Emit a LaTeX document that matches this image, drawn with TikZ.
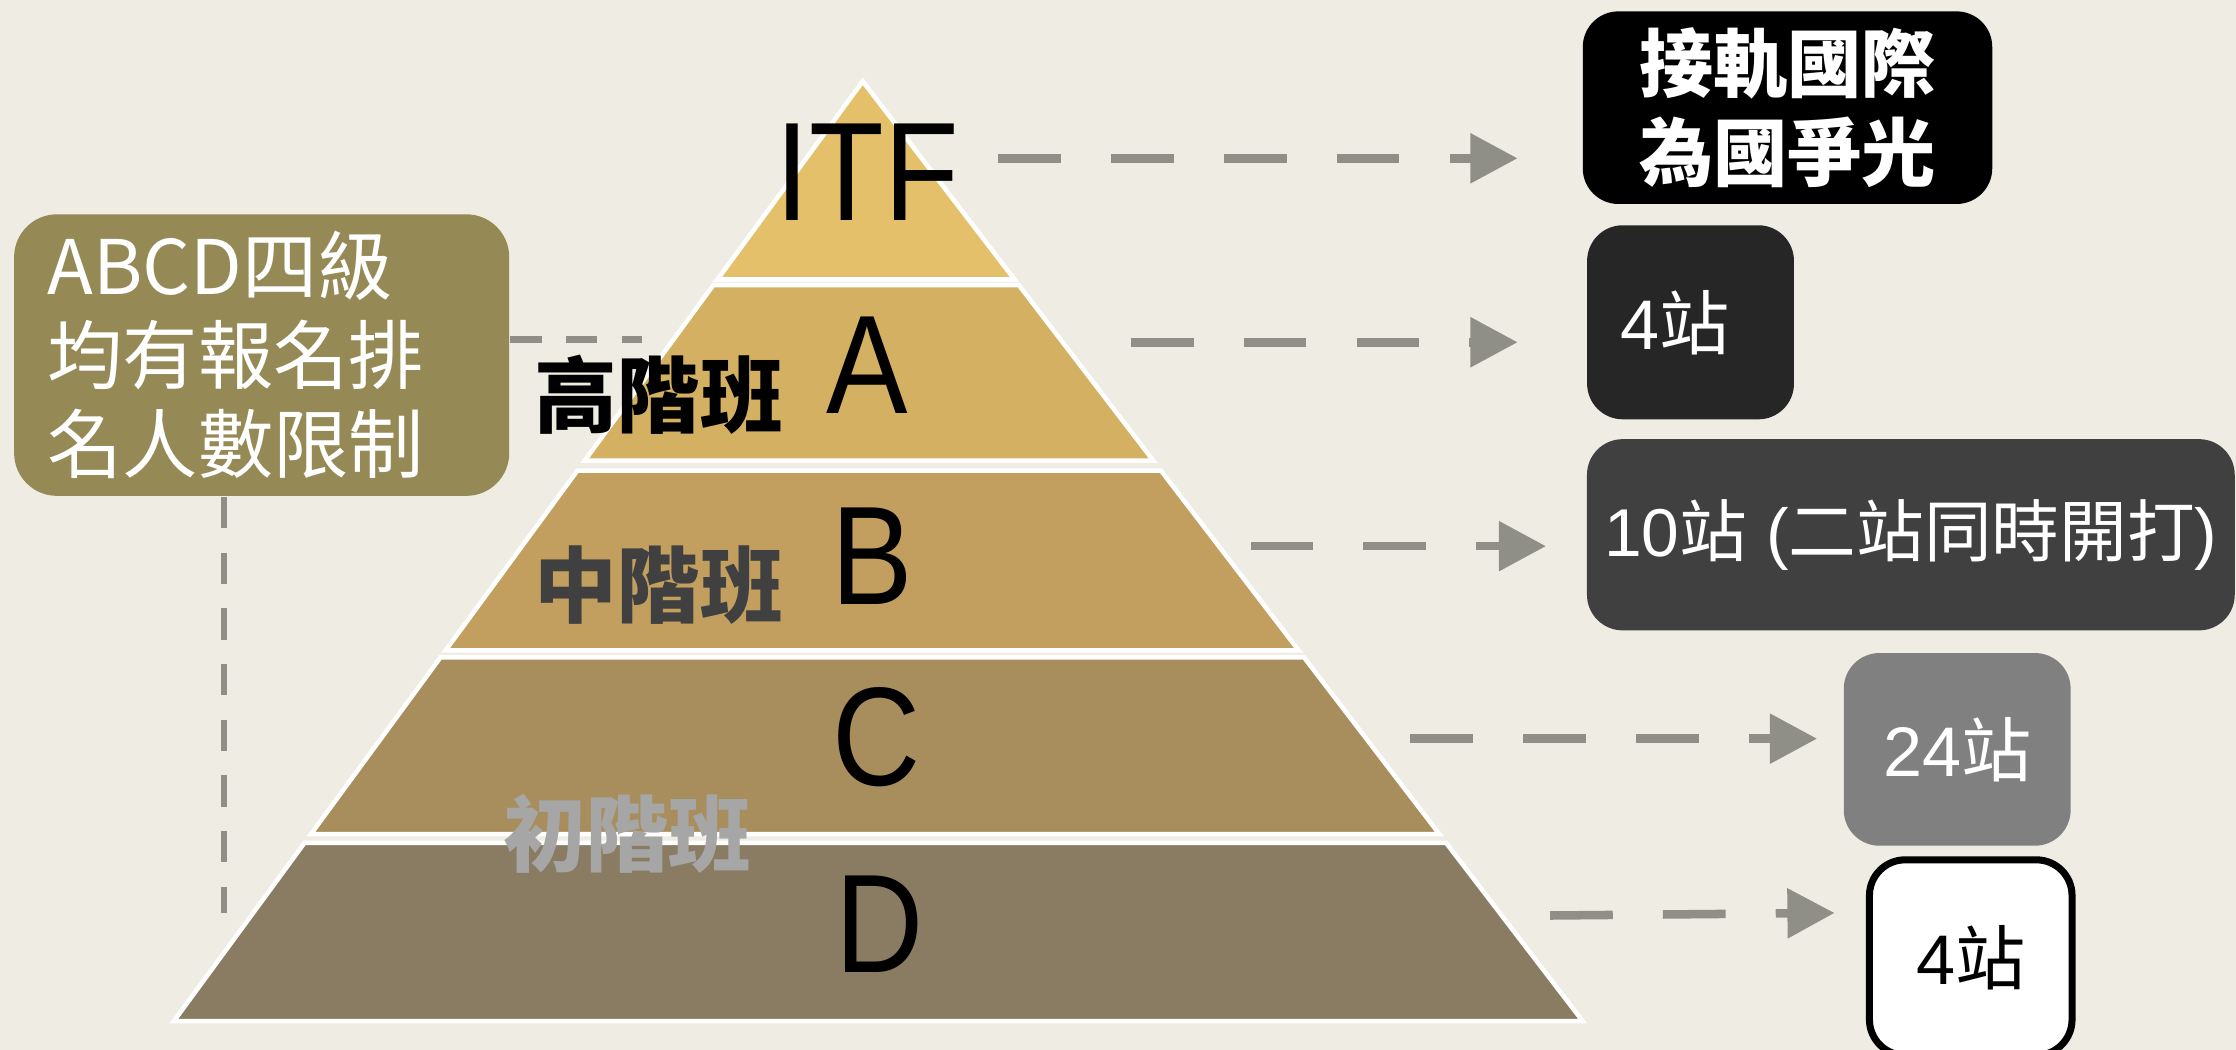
\documentclass[tikz,border=0pt]{standalone}
\usepackage{fontspec}
\setmainfont{Liberation Sans}
\newfontfamily\cjk{Noto Sans CJK TC}
\usetikzlibrary{%
	arrows.meta,%
	calc,%
	positioning
}
\definecolor{paper}{HTML}{EFECE4}
\definecolor{dashgray}{HTML}{8F8F88}
\definecolor{olivebox}{HTML}{958A56}
\definecolor{lvitf}{HTML}{E5C06B}
\definecolor{lva}{HTML}{D4B062}
\definecolor{lvb}{HTML}{C29F5F}
\definecolor{lvc}{HTML}{A88E5C}
\definecolor{lvd}{HTML}{8A7C62}
\tikzset{
	band/.style={draw=white, line width=0.9pt},
	levelname/.style={inner sep=0pt, font=\fontsize{28}{28}\selectfont},
	classname/.style={inner sep=0pt, font=\cjk\bfseries\fontsize{16.5}{16.5}\selectfont},
	stationbox/.style={rounded corners=0.25cm, inner sep=0pt, text=white, font=\fontsize{14}{16}\selectfont},
	flow/.style={draw=dashgray, line width=1.7pt, dash pattern=on 12.5pt off 10pt, -{Triangle[length=9.4pt,width=9.6pt]}},
	tie/.style={draw=dashgray, line width=1.3pt, dash pattern=on 6.3pt off 4.8pt},
}

\begin{document}
\begin{tikzpicture}[x=0.01cm, y=-0.01cm]
		\fill[paper] (0,0) rectangle (1568,736);
		\useasboundingbox (0,0) rectangle (1568,736);
		% pyramid, top to bottom
		\foreach \ya/\yb/\col in {57/196/lvitf, 200/323/lva, 330/456/lvb, 461/585/lvc, 591/716/lvd}{
			\filldraw[band, fill=\col] ({605-0.733*(\ya-57)},\ya) -- ({605+0.766*(\ya-57)},\ya)
				-- ({605+0.766*(\yb-57)},\yb) -- ({605-0.733*(\yb-57)},\yb) -- cycle;
		}
		\node[levelname] (itf) at (608,121) {\scalebox{0.87}[1]{ITF}};
		\foreach \lv/\x/\y in {A/608/256, B/612/390, C/615/517, D/617/648}
			\node[levelname] (lv\lv) at (\x,\y) {\scalebox{0.87}[1]{\lv}};
		\node[classname] (high) at (462,277) {高階班};
		\node[classname, text=black!75] (mid) at (462,410) {中階班};
		\node[classname, text=black!35] (low) at (440,585) {初階班};

		\node[fill=olivebox, rounded corners=0.3cm, text=white, align=left, text width=3cm,
			minimum height=1.92cm, inner xsep=0.235cm, font=\cjk\fontsize{15}{17.8}\selectfont]
			(note) at (183.5,249) {ABCD四級\\均有報名排\\名人數限制};

		\node[stationbox, fill=black, align=center, minimum width=2.87cm, minimum height=1.35cm,
			font=\cjk\bfseries\fontsize{14.8}{17.6}\selectfont] (goal) at (1253.5,75.5) {接軌國際\\為國爭光};
		\node[stationbox, fill=black!85, minimum width=1.45cm, minimum height=1.36cm] (stnA) at (1185.5,226) {4{\cjk 站}\hspace*{0.22cm}};
		\node[stationbox, fill=black!75, minimum width=4.54cm, minimum height=1.34cm,
			font=\fontsize{13.5}{16}\selectfont] (stnB) at (1340,375) {10{\cjk 站} ({\cjk 二站同時開打})};
		\node[stationbox, fill=black!50, minimum width=1.59cm, minimum height=1.35cm] (stnC) at (1372.5,525.5) {24{\cjk 站}};
		\node[stationbox, fill=white, draw=black, line width=1.4pt, text=black, minimum width=1.42cm,
			minimum height=1.37cm] (stnD) at (1382,671.5) {4{\cjk 站}};

		\coordinate (itf-out) at (700,111);
		\coordinate (a-out) at (793,240);
		\coordinate (b-out) at (877,383);
		\coordinate (c-out) at (989,518);
		\coordinate (d-out) at (1087,642);
		\draw[flow, shorten >=0.45cm] (itf-out) -- (itf-out -| goal.west);
		\draw[flow, shorten >=0.48cm] (a-out) -- (a-out -| stnA.west);
		\draw[flow, shorten >=0.28cm] (b-out) -- (b-out -| stnB.west);
		\draw[flow, shorten >=0.18cm] (c-out) -- (c-out -| stnC.west);
		\draw[flow, shorten >=0.22cm] (d-out) -- ($(d-out -| stnD.west)+(0,-2)$);

		\coordinate (note-h) at (450,238);
		\coordinate (note-v) at (157,640);
		\draw[tie] (note.east |- note-h) -- (note-h);
		\draw[tie] (note.south -| note-v) -- (note-v);
	\end{tikzpicture}
\end{document}
